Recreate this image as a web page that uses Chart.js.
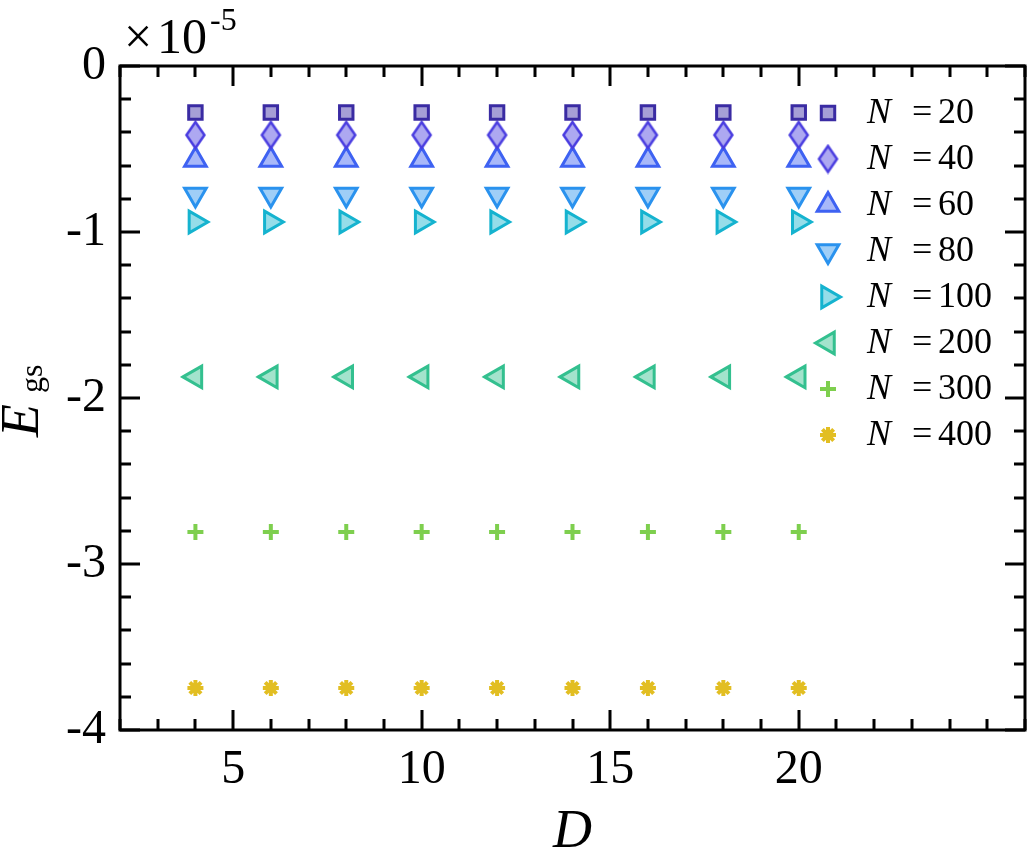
<!DOCTYPE html>
<html>
<head>
<meta charset="utf-8">
<script src="https://cdn.jsdelivr.net/npm/chart.js"></script>
<style>
  html, body { margin: 0; padding: 0; background: #fff; }
  canvas { display: block; }
</style>
</head>
<body>
<canvas id="chart" width="1028" height="850"></canvas>
<script>
// bond dimension D on the x axis
var D = [4, 6, 8, 10, 12, 14, 16, 18, 20];
// system sizes, one series each
var sizes = [20, 40, 60, 80, 100, 200, 300, 400];
// ground state energy, in units of 1e-5
var eN20  = [-0.280, -0.280, -0.280, -0.280, -0.280, -0.280, -0.280, -0.280, -0.280];
var eN40  = [-0.416, -0.416, -0.416, -0.416, -0.416, -0.416, -0.416, -0.416, -0.416];
var eN60  = [-0.566, -0.566, -0.566, -0.566, -0.566, -0.566, -0.566, -0.566, -0.566];
var eN80  = [-0.774, -0.774, -0.774, -0.774, -0.774, -0.774, -0.774, -0.774, -0.774];
var eN100 = [-0.940, -0.940, -0.940, -0.940, -0.940, -0.940, -0.940, -0.940, -0.940];
var eN200 = [-1.873, -1.873, -1.873, -1.873, -1.873, -1.873, -1.873, -1.873, -1.873];
var eN300 = [-2.807, -2.807, -2.807, -2.807, -2.807, -2.807, -2.807, -2.807, -2.807];
var eN400 = [-3.747, -3.747, -3.747, -3.747, -3.747, -3.747, -3.747, -3.747, -3.747];
var energies = [eN20, eN40, eN60, eN80, eN100, eN200, eN300, eN400];

var xTicks = [5, 10, 15, 20];
var yTicks = [0, -1, -2, -3, -4];

// marker styles
var edgeColors = ['#3a2ba3', '#4a3de0', '#3e62f2', '#2a92ee', '#15b3cf', '#33c08f', '#7ecf4e', '#e2be22'];
var fillAlpha = 0.45;
var markerStyles = ['rect', 'thinDiamond', 'triangle', 'triangle', 'triangle', 'triangle', 'cross', 'star'];
var markerRot = [0, 0, 0, 180, 90, -90, 0, 0];
var markerRadius = [9.5, 12, 12.5, 12.5, 12.5, 12.5, 8, 8];
var markerBorder = [3, 2.5, 3, 3, 3, 3, 4, 4];

var SERIF = "'Liberation Serif', 'Times New Roman', serif";

function fillOf(hex) {
  var r = parseInt(hex.substr(1, 2), 16), g = parseInt(hex.substr(3, 2), 16), b = parseInt(hex.substr(5, 2), 16);
  return 'rgba(' + r + ',' + g + ',' + b + ',' + fillAlpha + ')';
}

// matplotlib-like thin diamond, not a builtin chart.js style
function thinDiamond(edge, fill, lw) {
  var c = document.createElement('canvas');
  c.width = 25; c.height = 31;
  var g = c.getContext('2d');
  g.beginPath();
  g.moveTo(12.5, 2.5); g.lineTo(21.5, 15.5); g.lineTo(12.5, 28.5); g.lineTo(3.5, 15.5);
  g.closePath();
  g.fillStyle = '#fff'; g.fill();
  g.fillStyle = fill; g.fill();
  g.lineWidth = lw; g.strokeStyle = edge; g.lineJoin = 'miter';
  g.stroke();
  return c;
}

var datasets = sizes.map(function(n, i) {
  var style = markerStyles[i];
  if (style === 'thinDiamond') style = thinDiamond(edgeColors[i], fillOf(edgeColors[i]), markerBorder[i]);
  return {
    label: 'N =' + n,
    nValue: n,
    data: D.map(function(d, j) { return { x: d, y: energies[i][j] }; }),
    showLine: false,
    pointStyle: style,
    pointRotation: markerRot[i],
    pointRadius: markerRadius[i],
    pointHoverRadius: markerRadius[i],
    pointBorderWidth: markerBorder[i],
    pointBorderColor: edgeColors[i],
    pointBackgroundColor: fillOf(edgeColors[i]),
    borderColor: edgeColors[i],
    backgroundColor: fillOf(edgeColors[i])
  };
});

var decorations = {
  id: 'decorations',
  afterDraw: function(chart) {
    var ctx = chart.ctx, a = chart.chartArea;
    var xs = chart.scales.x, ys = chart.scales.y;
    ctx.save();
    ctx.strokeStyle = '#000';
    ctx.lineWidth = 3;
    ctx.strokeRect(a.left, a.top, a.right - a.left, a.bottom - a.top);

    // inward ticks on all four sides
    ctx.beginPath();
    for (var v = Math.ceil(xs.min); v <= xs.max; v++) {
      var len = xTicks.indexOf(v) >= 0 ? 20 : 11;
      var px = Math.round(xs.getPixelForValue(v));
      ctx.moveTo(px, a.bottom); ctx.lineTo(px, a.bottom - len);
      ctx.moveTo(px, a.top); ctx.lineTo(px, a.top + len);
    }
    for (var k = 0; k <= 20; k++) {
      var yv = ys.max - k * 0.2;
      var ylen = (k % 5 === 0) ? 20 : 11;
      var py = Math.round(ys.getPixelForValue(yv));
      ctx.moveTo(a.left, py); ctx.lineTo(a.left + ylen, py);
      ctx.moveTo(a.right, py); ctx.lineTo(a.right - ylen, py);
    }
    ctx.stroke();

    // legend
    var lx = a.right - 197, base0 = 123, step = 46;
    chart.data.datasets.forEach(function(ds, i) {
      var base = base0 + i * step;
      ctx.strokeStyle = ds.pointBorderColor;
      ctx.lineWidth = ds.pointBorderWidth;
      if (typeof ds.pointStyle === 'string') {
        ctx.fillStyle = '#fff';
        Chart.helpers.drawPoint(ctx, { pointStyle: ds.pointStyle, rotation: ds.pointRotation, radius: ds.pointRadius, borderWidth: 0 }, lx, base - 10);
      }
      ctx.fillStyle = ds.pointBackgroundColor;
      Chart.helpers.drawPoint(ctx, { pointStyle: ds.pointStyle, rotation: ds.pointRotation, radius: ds.pointRadius, borderWidth: ds.pointBorderWidth }, lx, base - 10);
      ctx.fillStyle = '#000';
      ctx.textAlign = 'left';
      ctx.textBaseline = 'alphabetic';
      ctx.font = 'italic 36px ' + SERIF;
      ctx.fillText('N', lx + 39, base);
      ctx.font = '36px ' + SERIF;
      ctx.fillText('=', lx + 84, base);
      ctx.fillText(String(ds.nValue), lx + 110, base);
    });

    // axis titles and offset text
    ctx.fillStyle = '#000';
    ctx.textBaseline = 'alphabetic';
    ctx.textAlign = 'center';
    ctx.font = 'italic 54px ' + SERIF;
    ctx.fillText('D', (a.left + a.right) / 2, 847);

    ctx.save();
    ctx.translate(38, 437);
    ctx.rotate(-Math.PI / 2);
    ctx.textAlign = 'left';
    ctx.font = 'italic 54px ' + SERIF;
    ctx.fillText('E', 0, 0);
    ctx.font = '32px ' + SERIF;
    ctx.fillText('gs', 44, 4);
    ctx.restore();

    ctx.textAlign = 'left';
    ctx.font = '50px ' + SERIF;
    ctx.fillText('\u00d7', a.left + 4, 53);
    ctx.fillText('10', a.left + 37, 53);
    ctx.font = '32px ' + SERIF;
    ctx.fillText('-5', a.left + 90, 30);
    ctx.restore();
  }
};

Chart.defaults.font.family = SERIF;
Chart.defaults.color = '#000';

new Chart(document.getElementById('chart').getContext('2d'), {
  type: 'scatter',
  data: { datasets: datasets },
  options: {
    responsive: false,
    animation: false,
    layout: { autoPadding: false, padding: { top: 66, right: 3, left: 0, bottom: 0 } },
    plugins: { legend: { display: false }, tooltip: { enabled: false } },
    scales: {
      x: {
        type: 'linear',
        min: 2,
        max: 26,
        grid: { display: false, drawTicks: false },
        border: { display: false },
        afterBuildTicks: function(scale) {
          scale.ticks = xTicks.map(function(v) { return { value: v }; });
        },
        afterFit: function(scale) {
          scale.height = 120;
          scale.paddingLeft = 0;
          scale.paddingRight = 0;
        },
        ticks: { font: { size: 48 }, color: '#000', padding: 12, maxRotation: 0, autoSkip: false }
      },
      y: {
        type: 'linear',
        min: -4,
        max: 0,
        grid: { display: false, drawTicks: false },
        border: { display: false },
        afterBuildTicks: function(scale) {
          scale.ticks = yTicks.map(function(v) { return { value: v }; });
        },
        afterFit: function(scale) { scale.width = 120; },
        ticks: { font: { size: 48 }, color: '#000', padding: 14 }
      }
    }
  },
  plugins: [decorations]
});
</script>
</body>
</html>
